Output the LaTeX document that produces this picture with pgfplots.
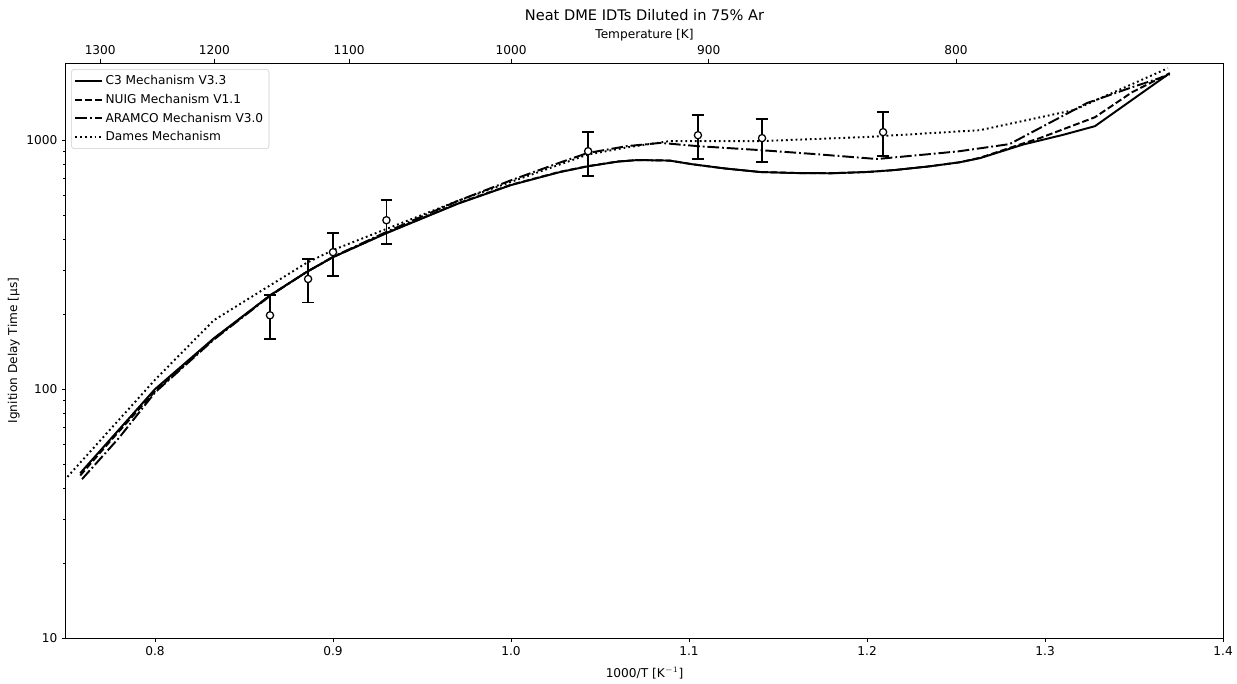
\documentclass[border=0pt]{standalone}
\usepackage{pgfplots}
\pgfplotsset{compat=1.18}
\usepackage{pgfplotstable}
\usepackage{fontspec}
\setmainfont{DejaVu Sans}

% model curves, 1000/T [1/K] vs IDT [us]
\pgfplotstableread{
x y
0.758 46
0.775 63
0.800 100
0.833 160
0.865 239
0.885 295
0.900 339
0.930 423
0.970 555
1.000 660
1.027 743
1.043 785
1.060 820
1.071 832
1.089 828
1.102 800
1.120 770
1.140 745
1.160 738
1.180 736
1.200 745
1.215 758
1.235 785
1.252 815
1.2635 847
1.2876 960
1.310 1050
1.328 1138
1.370 1857
}\cthree
\pgfplotstableread{
x y
0.758 45
0.775 62
0.800 98
0.833 159
0.865 239
0.885 295
0.900 339
0.930 424
0.970 557
1.000 662
1.027 745
1.043 786
1.060 821
1.071 832
1.089 828
1.102 800
1.120 770
1.140 745
1.160 738
1.180 737
1.200 745
1.215 758
1.235 785
1.252 815
1.2635 850
1.2876 970
1.297 1019
1.328 1236
1.349 1560
1.370 1857
}\nuig
\pgfplotstableread{
x y
0.759 43.5
0.780 64
0.800 97
0.833 158
0.865 238
0.885 295
0.900 340
0.930 428
0.970 570
1.000 690
1.0275 813
1.043 888
1.065 946
1.084 975
1.105 946
1.140 912
1.170 880
1.2056 840
1.241 887
1.252 903
1.280 964
1.3236 1410
1.349 1633
1.370 1830
}\aramco
\pgfplotstableread{
x y
0.749 43
0.800 109
0.833 189
0.865 262
0.885 321
0.900 362
0.930 440
0.970 570
1.000 680
1.043 875
1.065 935
1.089 991
1.140 991
1.200 1030
1.2635 1097
1.316 1320
1.369 1946
}\dames
% experiments
\pgfplotstableread{
x y ep em
0.8646 198 41 39
0.886 277 56 54
0.900 355 69 71
0.930 477 97 95
1.0433 903 174 187
1.105 1047 213 207
1.141 1019 194 203
1.209 1077 218 214
}\expdata

\newcommand\fs{\fontsize{8.75}{10.5}\selectfont}
\begin{document}
\fs
\begin{tikzpicture}
\useasboundingbox (-47.5pt,-33pt) rectangle (843pt,459.4pt);
\begin{axis}[
  at={(0,0)},anchor=south west,
  scale only axis,width=833pt,height=414pt,
  xmin=0.75,xmax=1.4,ymin=10,ymax=2040,
  ymode=log,log ticks with fixed point,
  /pgf/number format/1000 sep={},
  xtick={0.8,0.9,1.0,1.1,1.2,1.3,1.4},
  xticklabels={0.8,0.9,1.0,1.1,1.2,1.3,1.4},
  xtick pos=bottom,ytick pos=left,
  tick align=outside,
  major tick length=3.1pt,minor tick length=1.8pt,
  every tick/.style={black,line width=0.7pt},
  axis line style={line width=0.7pt},
  tick label style={font=\fs},
  /pgf/number format/assume math mode=true,
  xlabel={1000/T [K$^{-1}$]},
  ylabel={Ignition Delay Time [µs]},
  label style={font=\fs},
  xlabel style={at={(axis description cs:0.5,0)},anchor=center,yshift=-25.2pt},
  ylabel style={at={(axis description cs:0,0.5)},anchor=center,yshift=37.5pt},
  legend style={at={(0.0045,0.9895)},anchor=north west,
    draw=black!20,rounded corners=2pt,fill=white,fill opacity=0.8,text opacity=1,
    font=\fs,cells={anchor=west},
    inner sep=2.2pt,row sep=1.6pt},
  legend image code/.code={\draw[#1] (0pt,0pt) -- (19pt,0pt);},
]
\addplot[black,line width=1.4pt] table[x=x,y=y]{\cthree};
\addlegendentry{C3 Mechanism V3.3}
\addplot[black,line width=1.4pt,dash pattern=on 4.85pt off 2.1pt] table[x=x,y=y]{\nuig};
\addlegendentry{NUIG Mechanism V1.1}
\addplot[black,line width=1.4pt,dash pattern=on 8.4pt off 2.1pt on 1.3pt off 2.1pt] table[x=x,y=y]{\aramco};
\addlegendentry{ARAMCO Mechanism V3.0}
\addplot[black,line width=1.4pt,dash pattern=on 1.3pt off 2.15pt] table[x=x,y=y]{\dames};
\addlegendentry{Dames Mechanism}
\addplot[black,only marks,mark=*,mark size=2.6pt,
  mark options={fill=white,draw=black,line width=0.9pt},
  error bars/.cd,y dir=both,y explicit,
  error bar style={line width=1.3pt},
  error mark options={line width=1.3pt,mark size=4.2pt,rotate=90}]
  table[x=x,y=y,y error plus=ep,y error minus=em]{\expdata};
\end{axis}
\begin{axis}[
  at={(0,0)},anchor=south west,
  scale only axis,width=833pt,height=414pt,
  xmin=0.75,xmax=1.4,ymin=0,ymax=1,
  axis x line*=top,axis y line=none,
  tick align=outside,major tick length=3.1pt,
  every tick/.style={black,line width=0.7pt},
  axis line style={line width=0.7pt},
  xtick={0.769231,0.833333,0.909091,1.0,1.111111,1.25},
  xticklabels={1300,1200,1100,1000,900,800},
  tick label style={font=\fs},
  xlabel={Temperature [K]},
  label style={font=\fs},
  xlabel style={at={(axis description cs:0.5,1)},anchor=center,yshift=20.2pt},
  title={Neat DME IDTs Diluted in 75\% Ar},
  title style={font=\fontsize{10.5}{12.6}\selectfont,at={(axis description cs:0.5,1)},anchor=center,yshift=28.8pt},
]
\end{axis}
\end{tikzpicture}
\end{document}
